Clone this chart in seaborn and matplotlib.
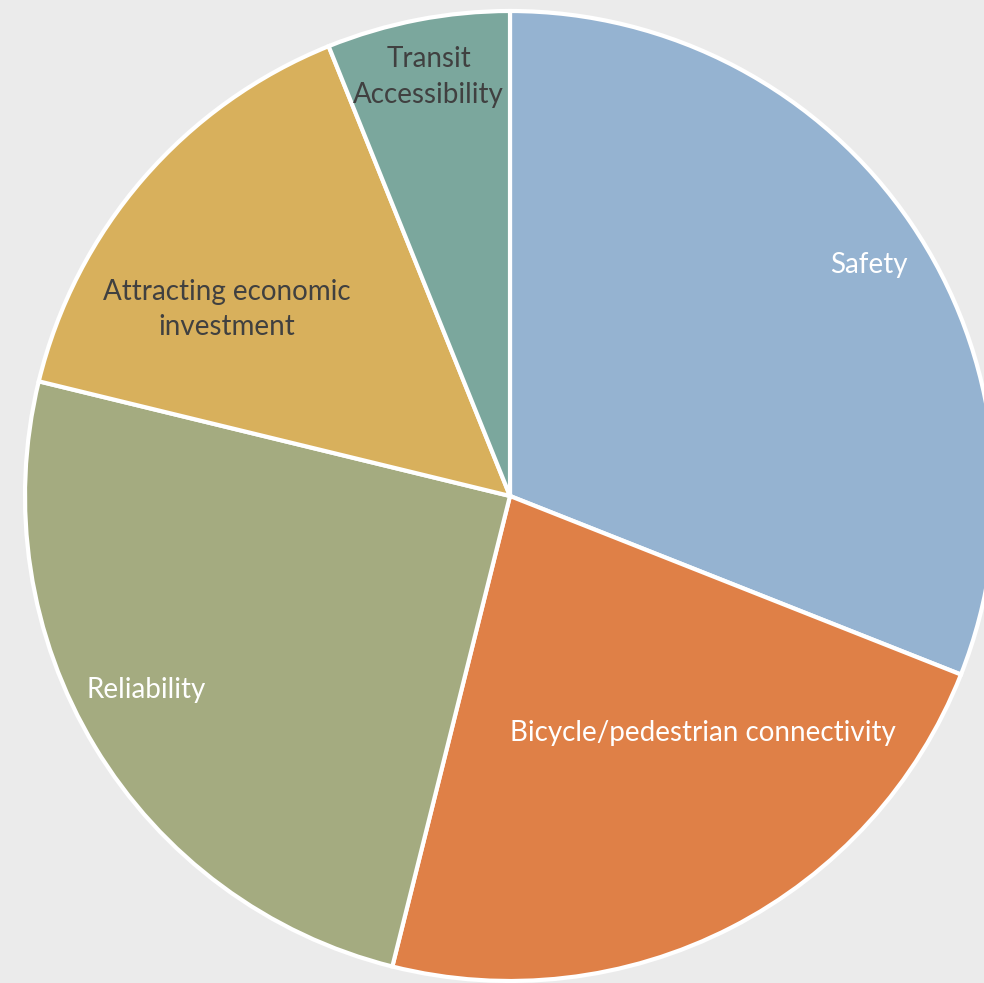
import matplotlib
matplotlib.use("Agg")
import numpy as np
import seaborn as sns
import matplotlib.pyplot as plt

# data
categories = ["Safety", "Bicycle/pedestrian connectivity", "Reliability",
              "Attracting economic\ninvestment", "Transit\nAccessibility"]
values = [31.0, 22.9, 24.9, 15.1, 6.1]
colors = ["#95B3D1", "#DF8047", "#A4AB80", "#D8B05C", "#7BA79D"]
label_colors = ["white", "white", "white", "#404040", "#404040"]
# label placement (fraction of radius, angle shift in degrees)
label_radius = [0.88, 0.63, 0.85, 0.70, 0.88]
label_shift = [-1.5, 12.0, -3.0, 7.5, 0.0]

sns.set_theme(style="white")
plt.rcParams['font.family'] = ['Lato', 'DejaVu Sans']

fig = plt.figure(figsize=(9.84, 9.83), dpi=100, facecolor="#EBEBEB")
ax = fig.add_axes([0, 0, 1, 1])
ax.set_facecolor("#EBEBEB")

wedges, texts = ax.pie(values, colors=colors, startangle=90, counterclock=False,
                       labels=categories, labeldistance=0.8,
                       wedgeprops=dict(edgecolor="white", linewidth=3),
                       textprops=dict(fontsize=20, ha="center", va="center"))

for w, t, r, s, c in zip(wedges, texts, label_radius, label_shift, label_colors):
    mid = np.deg2rad((w.theta1 + w.theta2) / 2 + s)
    t.set_position((r * np.cos(mid), r * np.sin(mid)))
    t.set_color(c)
    t.set_ha("center")
    t.set_va("center")
    t.set_linespacing(1.45)

ax.set_xlim(-510 / 485, (984 - 510) / 485)
ax.set_ylim(-(983 - 496) / 485, 496 / 485)
ax.set_aspect("auto")
ax.axis("off")

fig.savefig("out.png", dpi=100, facecolor="#EBEBEB")
